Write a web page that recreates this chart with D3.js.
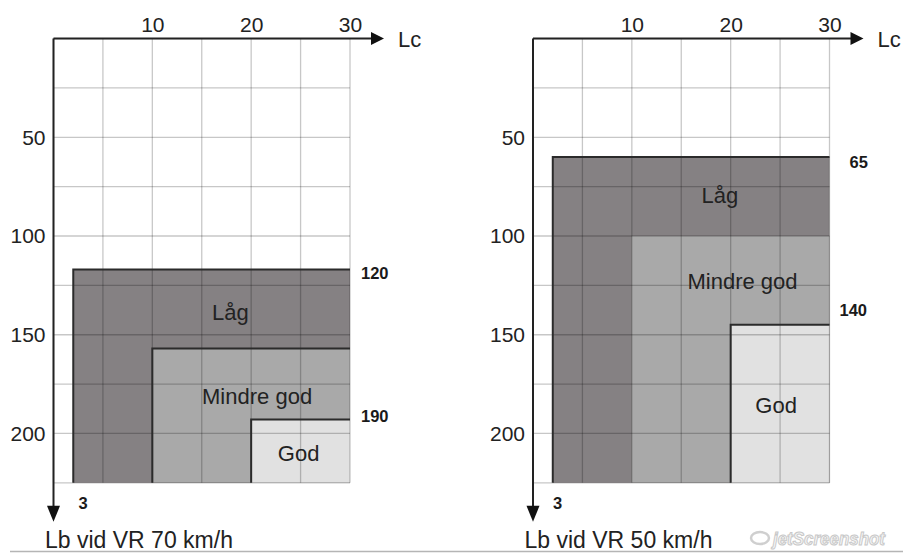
<!DOCTYPE html>
<html><head><meta charset="utf-8">
<script src="https://cdn.jsdelivr.net/npm/d3@7"></script>
<style>
body{margin:0;background:#fff}
svg{display:block}
text{font-family:"Liberation Sans",Arial,Helvetica,sans-serif}
</style>
</head><body>
<svg id="chart" width="903" height="553"></svg>
<script>
// ---------- data ----------
const zoneNames = ["Låg", "Mindre god", "God"];
const xTickValues = [10, 20, 30];
const yTickValues = [50, 100, 150, 200];
const gridLcValues = [0, 5, 10, 15, 20, 25, 30];
const gridLbValues = [0, 25, 50, 75, 100, 125, 150, 175, 200, 225];
const xAxisName = "Lc";
const minLcLabel = "3";
const titles = ["Lb vid VR 70 km/h", "Lb vid VR 50 km/h"];

// VR 70 km/h
const zoneStartLc70 = [2, 10, 20];
const zoneTopLb70 = [117, 157, 193];
const zoneOutlined70 = [true, true, true];
const limitLabels70 = ["120", "", "190"];
const limitLabelLb70 = [118.7, null, 191.2];
const zoneLabelLc70 = [17.9, 20.6, 24.8];
const zoneLabelLb70 = [138.5, 181, 210];

// VR 50 km/h
const zoneStartLc50 = [2, 10, 20];
const zoneTopLb50 = [60, 100, 145];
const zoneOutlined50 = [true, false, true];
const limitLabels50 = ["65", "", "140"];
const limitLabelLb50 = [62.5, null, 137.5];
const zoneLabelLc50 = [18.9, 21.2, 24.6];
const zoneLabelLb50 = [79.2, 123.1, 185.6];

const zoneColors = ["#858183", "#a9a9a9", "#e1e1e1"];

// ---------- drawing ----------
const svg = d3.select("#chart");

const panels = [
  {x0: 53.5, title: titles[0], start: zoneStartLc70, top: zoneTopLb70, outlined: zoneOutlined70,
   limits: limitLabels70, limitLb: limitLabelLb70, limitDx: [11, 0, 11],
   labLc: zoneLabelLc70, labLb: zoneLabelLb70, minDx: 25},
  {x0: 533, title: titles[1], start: zoneStartLc50, top: zoneTopLb50, outlined: zoneOutlined50,
   limits: limitLabels50, limitLb: limitLabelLb50, limitDx: [20, 0, 10],
   labLc: zoneLabelLc50, labLb: zoneLabelLb50, minDx: 20}
];

panels.forEach(p => {
  const x = d3.scaleLinear().domain([0, 30]).range([p.x0, p.x0 + 296.5]);
  const y = d3.scaleLinear().domain([0, 225]).range([38.6, 482.8]);
  const g = svg.append("g");

  // zones
  const zones = zoneNames.map((n, i) => ({name: n, start: p.start[i], top: p.top[i], outlined: p.outlined[i], color: zoneColors[i]}));
  g.selectAll("rect.zone").data(zones).join("rect")
    .attr("class", "zone")
    .attr("x", d => x(d.start)).attr("y", d => y(d.top))
    .attr("width", d => x(30) - x(d.start)).attr("height", d => y(225) - y(d.top))
    .attr("fill", d => d.color);

  // grid
  g.selectAll("line.gv").data(gridLcValues).join("line")
    .attr("class", "gv")
    .attr("x1", d => x(d)).attr("x2", d => x(d))
    .attr("y1", y(0)).attr("y2", y(225))
    .attr("stroke", "#000").attr("stroke-opacity", 0.22).attr("stroke-width", 1.3);
  g.selectAll("line.gh").data(gridLbValues).join("line")
    .attr("class", "gh")
    .attr("x1", x(0)).attr("x2", x(30))
    .attr("y1", d => y(d)).attr("y2", d => y(d))
    .attr("stroke", "#000").attr("stroke-opacity", 0.22).attr("stroke-width", 1.3);

  // zone outlines
  g.selectAll("path.outline").data(zones.filter(d => d.outlined)).join("path")
    .attr("class", "outline")
    .attr("d", d => `M${x(d.start)},${y(225)}V${y(d.top)}H${x(30)}`)
    .attr("fill", "none").attr("stroke", "#2b2b2b").attr("stroke-width", 2);

  // zone labels
  g.selectAll("text.zl").data(zones).join("text")
    .attr("class", "zl")
    .attr("x", (d, i) => x(p.labLc[i])).attr("y", (d, i) => y(p.labLb[i]))
    .attr("dy", "0.35em").attr("text-anchor", "middle")
    .attr("font-size", 22).attr("fill", "#222")
    .text(d => d.name);

  // limit labels
  const lim = p.limits.map((t, i) => ({t, lb: p.limitLb[i], dx: p.limitDx[i]})).filter(d => d.t);
  g.selectAll("text.lim").data(lim).join("text")
    .attr("class", "lim")
    .attr("x", d => x(30) + d.dx).attr("y", d => y(d.lb))
    .attr("dy", "0.35em").attr("font-size", 16.5).attr("font-weight", "bold").attr("fill", "#1a1a1a")
    .text(d => d.t);

  // axes (tick labels)
  const ax = g.append("g").attr("transform", `translate(0,${y(0)})`)
    .call(d3.axisTop(x).tickValues(xTickValues).tickSize(0).tickPadding(7));
  ax.select(".domain").remove();
  ax.selectAll("text").attr("font-size", 21).attr("fill", "#222").style("font-family", '"Liberation Sans",Arial,sans-serif');

  const ay = g.append("g").attr("transform", `translate(${x(0)},0)`)
    .call(d3.axisLeft(y).tickValues(yTickValues).tickSize(0).tickPadding(8));
  ay.select(".domain").remove();
  ay.selectAll("text").attr("font-size", 21).attr("fill", "#222").style("font-family", '"Liberation Sans",Arial,sans-serif');

  // axis lines with arrows
  const ox = x(0), oy = y(0);
  const xEnd = x(30) + 34, yEnd = y(225) + 39;
  g.append("line").attr("x1", ox).attr("y1", oy).attr("x2", xEnd - 12).attr("y2", oy)
    .attr("stroke", "#222").attr("stroke-width", 2);
  g.append("path").attr("d", `M${xEnd},${oy}L${xEnd - 13},${oy - 6.5}L${xEnd - 13},${oy + 6.5}Z`).attr("fill", "#111");
  g.append("line").attr("x1", ox).attr("y1", oy).attr("x2", ox).attr("y2", yEnd - 12)
    .attr("stroke", "#222").attr("stroke-width", 2);
  g.append("path").attr("d", `M${ox},${yEnd}L${ox - 6.5},${yEnd - 16}L${ox + 6.5},${yEnd - 16}Z`).attr("fill", "#111");

  g.append("text").attr("x", xEnd + 14).attr("y", oy).attr("dy", "0.36em")
    .attr("font-size", 22).attr("fill", "#222").text(xAxisName);

  g.append("text").attr("x", ox + p.minDx).attr("y", 503).attr("dy", "0.35em")
    .attr("font-size", 16.5).attr("font-weight", "bold").attr("fill", "#1a1a1a").text(minLcLabel);

  g.append("text").attr("x", ox - 8.5).attr("y", 548)
    .attr("font-size", 23).attr("fill", "#222").text(p.title);
});

// bottom border line and watermark
svg.append("line").attr("x1", 10).attr("x2", 903).attr("y1", 551.5).attr("y2", 551.5)
  .attr("stroke", "#b5b5b5").attr("stroke-width", 1.5);
svg.append("ellipse").attr("cx", 760).attr("cy", 538).attr("rx", 9).attr("ry", 6)
  .attr("fill", "none").attr("stroke", "#cfcfcf").attr("stroke-width", 2.5);
svg.append("text").attr("x", 773).attr("y", 545)
  .attr("font-size", 18).attr("font-style", "italic").attr("font-weight", "bold")
  .attr("textLength", 112).attr("lengthAdjust", "spacingAndGlyphs")
  .attr("fill", "#f6f6f6").attr("stroke", "#c8c8c8").attr("stroke-width", 1)
  .text("jetScreenshot");
</script>
</body></html>
